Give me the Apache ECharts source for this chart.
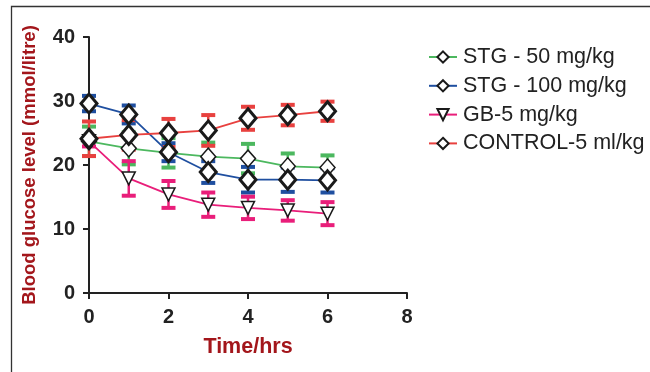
<!DOCTYPE html>
<html><head><meta charset="utf-8">
<script src="https://cdn.jsdelivr.net/npm/echarts@6/dist/echarts.min.js"></script>
<style>html,body{margin:0;padding:0;background:#fff}#c{width:650px;height:372px}</style>
</head><body><div id="c"></div>
<script>
const times = [0, 1, 2, 3, 4, 5, 6];
const xTicks = [0, 2, 4, 6, 8];
const yTicks = [0, 10, 20, 30, 40];
const seriesNames = ['STG - 50 mg/kg', 'STG - 100 mg/kg', 'GB-5 mg/kg', 'CONTROL-5 ml/kg'];
const stg50Mean = [23.7, 22.6, 21.9, 21.3, 21.0, 19.8, 19.6];
const stg50Err  = [2.3, 2.5, 2.3, 2.2, 2.3, 2.0, 1.9];
const stg100Mean = [29.6, 27.9, 22.0, 18.9, 17.7, 17.7, 17.6];
const stg100Err  = [1.2, 1.4, 1.4, 1.7, 2.0, 1.9, 1.9];
const gbMean = [23.7, 17.9, 15.4, 13.8, 13.3, 12.9, 12.4];
const gbErr  = [0.8, 2.7, 2.1, 1.9, 1.75, 1.6, 1.8];
const ctrlMean = [24.1, 24.7, 25.0, 25.4, 27.3, 27.8, 28.4];
const ctrlErr  = [2.7, 2.3, 2.2, 2.4, 1.8, 1.6, 1.5];

const colors = ['#4cb85f', '#1f4fa0', '#e91e7a', '#e8413f'];
const means = [stg50Mean, stg100Mean, gbMean, ctrlMean];
const errs = [stg50Err, stg100Err, gbErr, ctrlErr];

const chart = echarts.init(document.getElementById('c'));
const FONT = '"Liberation Sans", Arial, sans-serif';

function errSeries(i) {
  return {
    type: 'custom',
    silent: true,
    z: 1,
    data: times.map((t, k) => [t, means[i][k] - errs[i][k], means[i][k] + errs[i][k]]),
    renderItem: function (params, api) {
      const lo = api.coord([api.value(0), api.value(1)]);
      const hi = api.coord([api.value(0), api.value(2)]);
      const hw = 7;
      const st = { stroke: colors[i], lineWidth: 2.5 };
      const cap = { stroke: colors[i], lineWidth: 4 };
      return { type: 'group', children: [
        { type: 'line', shape: { x1: lo[0], y1: lo[1], x2: hi[0], y2: hi[1] }, style: st },
        { type: 'line', shape: { x1: lo[0]-hw, y1: lo[1], x2: lo[0]+hw, y2: lo[1] }, style: cap },
        { type: 'line', shape: { x1: hi[0]-hw, y1: hi[1], x2: hi[0]+hw, y2: hi[1] }, style: cap }
      ]};
    }
  };
}

const symbols = [
  { symbol: 'diamond', size: [15, 17], bw: 1.5, rot: 0 },
  { symbol: 'diamond', size: [16, 19], bw: 3, rot: 0 },
  { symbol: 'triangle', size: [13, 13], bw: 1.5, rot: 180 },
  { symbol: 'diamond', size: [16, 19], bw: 3, rot: 0 }
];

function lineSeries(i) {
  return {
    name: seriesNames[i],
    type: 'line',
    z: 3 + i,
    data: times.map((t, k) => [t, means[i][k]]),
    symbol: symbols[i].symbol,
    symbolSize: symbols[i].size,
    symbolRotate: symbols[i].rot,
    showAllSymbol: true,
    lineStyle: { color: colors[i], width: 1.8 },
    itemStyle: { color: '#fff', borderColor: '#1a1a1a', borderWidth: symbols[i].bw },
    emphasis: { disabled: true },
    animation: false
  };
}

const series = [];
for (let i = 0; i < 4; i++) series.push(errSeries(i));
for (let i = 0; i < 4; i++) series.push(lineSeries(i));

chart.setOption({
  animation: false,
  grid: { left: 89, right: 243, top: 37, bottom: 79, containLabel: false },
  legend: {
    orient: 'vertical',
    left: 423, top: 41,
    itemWidth: 28, itemHeight: 14, itemGap: 6.8,
    textStyle: { fontFamily: FONT, fontSize: 21.5, color: '#222', padding: [0, 0, 0, 1] },
    data: seriesNames
  },
  xAxis: {
    type: 'value', min: 0, max: 8, interval: 2,
    name: 'Time/hrs', nameLocation: 'middle', nameGap: 43,
    nameTextStyle: { fontFamily: FONT, fontSize: 21.5, fontWeight: 'bold', color: '#a3161b' },
    axisLine: { show: true, onZero: false, lineStyle: { color: '#222', width: 2 } },
    axisTick: { show: true, length: 6, lineStyle: { color: '#222', width: 2 } },
    axisLabel: { fontFamily: FONT, fontSize: 20, fontWeight: 'bold', color: '#222', margin: 14,
      formatter: v => xTicks.includes(v) ? String(v) : '' },
    splitLine: { show: false }
  },
  yAxis: {
    type: 'value', min: 0, max: 40, interval: 10,
    name: 'Blood glucose level (mmol/litre)', nameLocation: 'middle', nameGap: 50, nameRotate: 90,
    nameTextStyle: { fontFamily: FONT, fontSize: 18.5, fontWeight: 'bold', color: '#a3161b' },
    axisLine: { show: true, onZero: false, lineStyle: { color: '#222', width: 2 } },
    axisTick: { show: true, length: 6, lineStyle: { color: '#222', width: 2 } },
    axisLabel: { fontFamily: FONT, fontSize: 20, fontWeight: 'bold', color: '#222', margin: 14,
      formatter: v => yTicks.includes(v) ? String(v) : '' },
    splitLine: { show: false }
  },
  graphic: [
    { type: 'polyline', shape: { points: [[11.5, 372], [11.5, 6.5], [650, 6.5]] },
      style: { stroke: '#333', lineWidth: 1.3, fill: null }, silent: true }
  ],
  series: series
});
</script></body></html>
